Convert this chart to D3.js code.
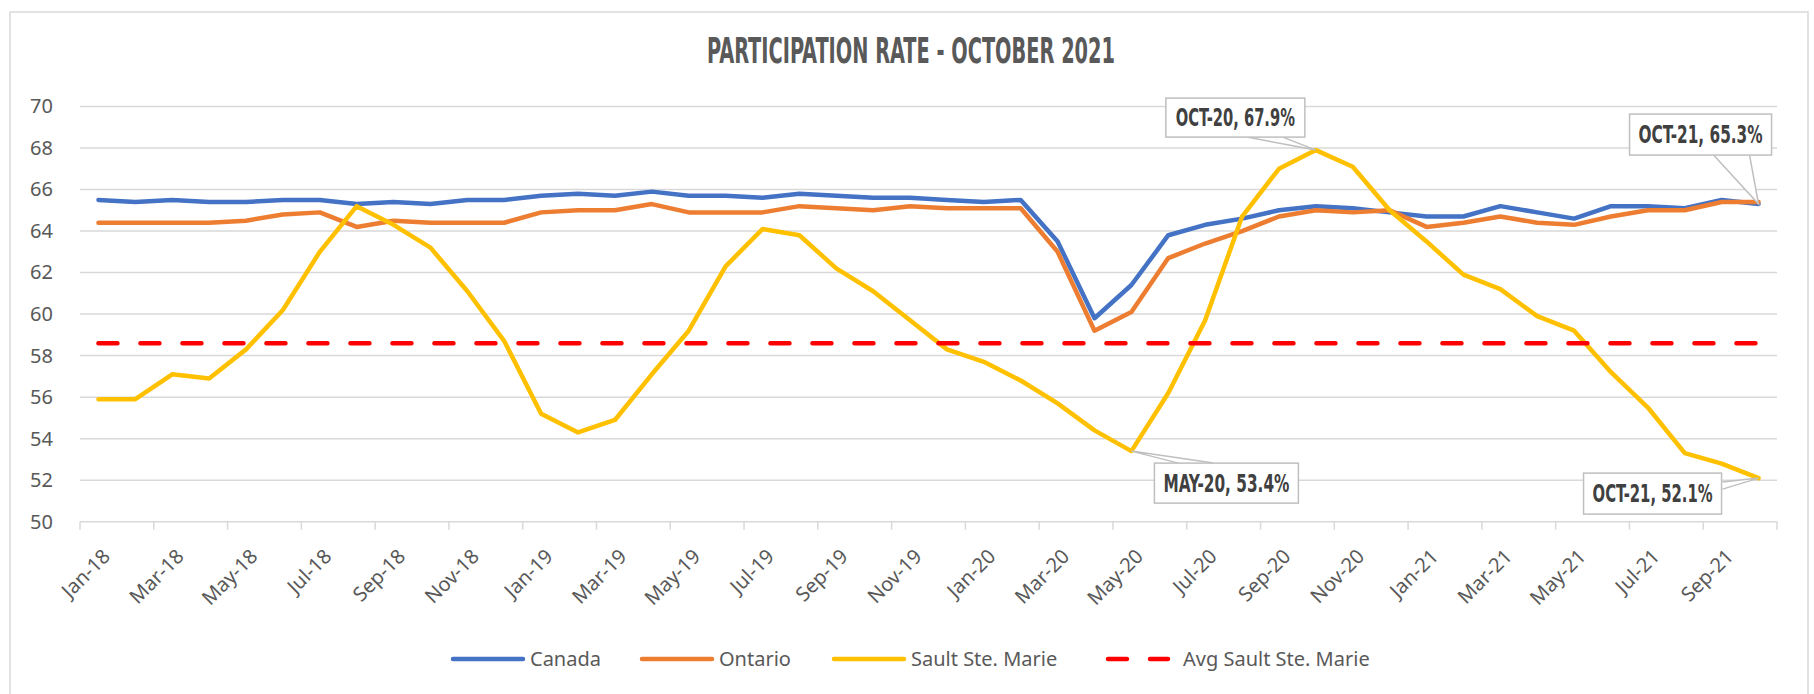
<!DOCTYPE html>
<html>
<head>
<meta charset="utf-8">
<script src="https://cdn.jsdelivr.net/npm/d3@7"></script>
<style>
  body { margin: 0; background: #fff; }
  svg text { font-family: "Noto Sans", sans-serif; fill: #595959; }
  .narrow { font-family: "Liberation Sans Narrow", "DejaVu Sans Condensed", sans-serif !important; font-weight: bold; }
</style>
</head>
<body>
<div id="chart"></div>
<script>
// categories (Jan-18 .. Oct-21)
const months = [
  "Jan-18","Feb-18","Mar-18","Apr-18","May-18","Jun-18","Jul-18","Aug-18","Sep-18","Oct-18","Nov-18","Dec-18",
  "Jan-19","Feb-19","Mar-19","Apr-19","May-19","Jun-19","Jul-19","Aug-19","Sep-19","Oct-19","Nov-19","Dec-19",
  "Jan-20","Feb-20","Mar-20","Apr-20","May-20","Jun-20","Jul-20","Aug-20","Sep-20","Oct-20","Nov-20","Dec-20",
  "Jan-21","Feb-21","Mar-21","Apr-21","May-21","Jun-21","Jul-21","Aug-21","Sep-21","Oct-21"
];

const canada = [
  65.5,65.4,65.5,65.4,65.4,65.5,65.5,65.3,65.4,65.3,65.5,65.5,
  65.7,65.8,65.7,65.9,65.7,65.7,65.6,65.8,65.7,65.6,65.6,65.5,
  65.4,65.5,63.5,59.8,61.4,63.8,64.3,64.6,65.0,65.2,65.1,64.9,
  64.7,64.7,65.2,64.9,64.6,65.2,65.2,65.1,65.5,65.3
];

const ontario = [
  64.4,64.4,64.4,64.4,64.5,64.8,64.9,64.2,64.5,64.4,64.4,64.4,
  64.9,65.0,65.0,65.3,64.9,64.9,64.9,65.2,65.1,65.0,65.2,65.1,
  65.1,65.1,63.0,59.2,60.1,62.7,63.4,64.0,64.7,65.0,64.9,65.0,
  64.2,64.4,64.7,64.4,64.3,64.7,65.0,65.0,65.4,65.4
];

const sault = [
  55.9,55.9,57.1,56.9,58.3,60.2,63.0,65.2,64.3,63.2,61.1,58.7,
  55.2,54.3,54.9,57.1,59.2,62.3,64.1,63.8,62.2,61.1,59.7,58.3,
  57.7,56.8,55.7,54.4,53.4,56.2,59.7,64.7,67.0,67.9,67.1,65.0,
  63.5,61.9,61.2,59.9,59.2,57.2,55.5,53.3,52.8,52.1
];

const avgSault = 58.6;

const yTicks = [50, 52, 54, 56, 58, 60, 62, 64, 66, 68, 70];

const seriesNames = ["Canada", "Ontario", "Sault Ste. Marie", "Avg Sault Ste. Marie"];
const seriesColors = ["#4472C4", "#ED7D31", "#FFC000", "#FF0000"];

const callouts = [
  { values: sault,  month: "Oct-20", text: "OCT-20, 67.9%" },
  { values: canada, month: "Oct-21", text: "OCT-21,  65.3%" },
  { values: sault,  month: "May-20", text: "MAY-20, 53.4%" },
  { values: sault,  month: "Oct-21", text: "OCT-21, 52.1%" }
];

// callout box layout, relative to the data point
const calloutLayout = [
  { dx: -150, dy: -52, w: 139, h: 39, tw: 119, base: [[-69, -13], [-33, -13]] },
  { dx: -129, dy: -90, w: 142, h: 41, tw: 124, base: [[-45, -49], [-9, -49]] },
  { dx: 23,   dy: 12,  w: 144, h: 40, tw: 126, base: [[47, 12], [82, 12]] },
  { dx: -175, dy: -5,  w: 138, h: 41, tw: 120, base: [[-36, 4], [-36, 11]] }
];

const width = 1814, height = 694;
const plot = { left: 80, right: 1777, top: 106.5, bottom: 521.7 };

const svg = d3.select("#chart").append("svg")
  .attr("width", width)
  .attr("height", height);

// chart frame
svg.append("rect")
  .attr("x", 10).attr("y", 12)
  .attr("width", 1798).attr("height", 700)
  .attr("fill", "#fff")
  .attr("stroke", "#d9d9d9")
  .attr("stroke-width", 1.5);

svg.append("text")
  .attr("class", "narrow")
  .attr("x", 911).attr("y", 63)
  .attr("text-anchor", "middle")
  .attr("font-size", 35)
  .attr("textLength", 408)
  .attr("lengthAdjust", "spacingAndGlyphs")
  .text("PARTICIPATION RATE - OCTOBER 2021");

const x = d3.scaleBand().domain(months).range([plot.left, plot.right]);
const y = d3.scaleLinear().domain([50, 70]).range([plot.bottom, plot.top]);
const cx = m => x(m) + x.bandwidth() / 2;

// gridlines
svg.append("g")
  .selectAll("line")
  .data(yTicks)
  .enter().append("line")
  .attr("x1", plot.left).attr("x2", plot.right)
  .attr("y1", d => y(d)).attr("y2", d => y(d))
  .attr("stroke", "#d9d9d9")
  .attr("stroke-width", 1.5);

// y labels
const yAxis = svg.append("g")
  .attr("transform", `translate(${plot.left},0)`)
  .call(d3.axisLeft(y).tickValues(yTicks).tickSize(0).tickPadding(27));
yAxis.select(".domain").remove();
yAxis.selectAll("text").attr("font-size", 20).attr("fill", "#595959");

// x tick marks every two months
const tickIdx = d3.range(0, months.length + 1, 2);
svg.append("g")
  .selectAll("line")
  .data(tickIdx)
  .enter().append("line")
  .attr("x1", i => i < months.length ? x(months[i]) : plot.right)
  .attr("x2", i => i < months.length ? x(months[i]) : plot.right)
  .attr("y1", plot.bottom).attr("y2", plot.bottom + 8)
  .attr("stroke", "#d9d9d9")
  .attr("stroke-width", 1.5);

// x labels
svg.append("g")
  .selectAll("text")
  .data(months.filter((m, i) => i % 2 === 0))
  .enter().append("text")
  .attr("transform", m => `translate(${cx(m) + 8},${plot.bottom + 31}) rotate(-45)`)
  .attr("text-anchor", "end")
  .attr("dy", "0.35em")
  .attr("font-size", 20)
  .text(m => m);

// series lines
const line = d3.line()
  .x((d, i) => cx(months[i]))
  .y(d => y(d));

[canada, ontario, sault].forEach((vals, k) => {
  svg.append("path")
    .datum(vals)
    .attr("d", line)
    .attr("fill", "none")
    .attr("stroke", seriesColors[k])
    .attr("stroke-width", 4.5)
    .attr("stroke-linejoin", "round")
    .attr("stroke-linecap", "round");
});

svg.append("line")
  .attr("x1", cx(months[0])).attr("x2", cx(months[months.length - 1]))
  .attr("y1", y(avgSault)).attr("y2", y(avgSault))
  .attr("stroke", seriesColors[3])
  .attr("stroke-width", 4.5)
  .attr("stroke-linecap", "round")
  .attr("stroke-dasharray", "19,23");

// data callouts
callouts.forEach((c, k) => {
  const L = calloutLayout[k];
  const px = cx(c.month), py = y(c.values[months.indexOf(c.month)]);
  const g = svg.append("g");
  g.append("path")
    .attr("d", `M${px + L.base[0][0]},${py + L.base[0][1]}L${px},${py}L${px + L.base[1][0]},${py + L.base[1][1]}`)
    .attr("fill", "#fff")
    .attr("stroke", "#bfbfbf")
    .attr("stroke-width", 1.5);
  g.append("rect")
    .attr("x", px + L.dx).attr("y", py + L.dy)
    .attr("width", L.w).attr("height", L.h)
    .attr("fill", "#fff")
    .attr("stroke", "#bfbfbf")
    .attr("stroke-width", 1.5);
  g.append("text")
    .attr("class", "narrow")
    .attr("x", px + L.dx + L.w / 2)
    .attr("y", py + L.dy + L.h / 2)
    .attr("dy", "0.37em")
    .attr("text-anchor", "middle")
    .attr("font-size", 24)
    .attr("textLength", L.tw)
    .attr("lengthAdjust", "spacingAndGlyphs")
    .style("fill", "#404040")
    .text(c.text);
});

// legend
const legendX = [453, 642, 834, 1108];
const legendY = 659;
const legend = svg.append("g");
seriesNames.forEach((name, k) => {
  const ln = legend.append("line")
    .attr("x1", legendX[k]).attr("x2", legendX[k] + (k === 3 ? 60 : 70))
    .attr("y1", legendY).attr("y2", legendY)
    .attr("stroke", seriesColors[k])
    .attr("stroke-width", 4.5)
    .attr("stroke-linecap", "round");
  if (k === 3) ln.attr("stroke-dasharray", "19,23");
  legend.append("text")
    .attr("x", legendX[k] + (k === 3 ? 75 : 77))
    .attr("y", legendY)
    .attr("dy", "0.35em")
    .attr("font-size", 20)
    .text(name);
});
</script>
</body>
</html>
